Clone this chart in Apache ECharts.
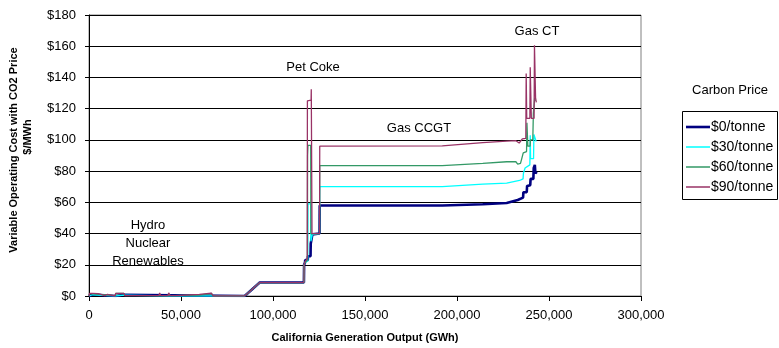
<!DOCTYPE html>
<html><head><meta charset="utf-8">
<script src="https://cdn.jsdelivr.net/npm/echarts@6/dist/echarts.min.js"></script>
<style>html,body{margin:0;padding:0;background:#fff}#c{width:779px;height:348px}</style>
</head><body><div id="c"></div>
<script>
const seriesNames = ['$0/tonne', '$30/tonne', '$60/tonne', '$90/tonne'];
const xTicks = [0, 50000, 100000, 150000, 200000, 250000, 300000];
const yTicks = [0, 20, 40, 60, 80, 100, 120, 140, 160, 180];

const gwh0 = [0,300,2000,2300,14500,15000,19000,19400,84600,92800,116800,116900,117400,117500,118900,119000,120400,120500,121300,121400,125300,125400,192000,214000,227000,233000,235900,236100,237900,238100,239800,240000,241500,241700,242300,242600,243400];
const cost0 = [0,1,1,0,0,0.8,0.8,0,0,8.6,8.6,20,21.5,23,23,25.5,25.5,33.5,33.5,39.5,40,58,58,58.8,59.6,61.5,63,66.5,66.5,70.5,71,75,75,82,84,78.6,79.5];

const gwh30 = [0,300,2000,2300,14400,14500,19000,19400,43000,43300,44000,66000,66500,67500,84600,92800,116800,116900,117400,118900,119000,120500,120600,121300,121400,125300,125400,192000,214000,227000,234000,235900,236100,237000,237700,239600,239800,240000,241600,241800,242400,243000];
const cost30 = [0,0.8,0.8,0,0,0.5,0.5,0,0,1.2,0,0,1.2,0,0,8.6,8.6,20,21.5,22.5,59,59,35,35,39.5,40,70,70,71.6,72.3,74,75,78.6,82,83,84,103,88,88,103.5,103.5,99];

const gwh60 = [0,300,2000,2300,14400,14500,19000,19400,43000,43300,44000,60000,66500,67500,84600,92800,116800,116900,117400,118700,118800,119000,120500,120600,125300,125400,192000,214000,227000,232000,233000,234500,235200,235800,236000,237800,238000,238400,238500,239700,239900,241200,241500,241900,242200,242600];
const cost60 = [0,1.4,1.4,0.2,0.2,1.6,1.6,0.2,0.2,1.6,0.2,0.6,1.6,0,0,8.6,8.6,20,21.5,23,90,96.5,96.5,40,40,83.5,83.5,85,86,86,84.5,85,88,88,91.7,92.5,111,111,96,96,100,100,117,117,127,125];

const gwh90 = [0,300,2000,2300,3000,5000,5400,8500,9000,10000,10300,14000,14500,19000,19400,38000,38400,38900,43000,43300,44000,47500,60000,66500,67500,84600,92800,116800,116900,117400,118600,118700,120700,120800,121100,121200,125300,125400,192000,214000,227000,232000,233800,234800,235500,237400,237600,237900,239600,239800,240200,240400,241900,242100,242500,242700,243100];
const cost90 = [0,1.7,1.7,0.5,1.5,1.5,0.3,0.3,1,1,0,0,1.7,1.7,0.3,0.3,2,0.3,0.3,2,0.3,0.3,1,1.8,0,0,8.6,8.6,20,22,24,125,125.5,132.5,132.5,40,40,96,96.2,98.3,99.2,99.5,98,99,100.7,101,142.5,113.8,113.8,146.5,146.5,113.8,113.8,160.6,160.6,127,124];

const annotations = [
  {text: 'Hydro', x: 148, y: 225},
  {text: 'Nuclear', x: 148, y: 243},
  {text: 'Renewables', x: 148, y: 261},
  {text: 'Pet Coke', x: 313, y: 67},
  {text: 'Gas CCGT', x: 419, y: 128},
  {text: 'Gas CT', x: 537, y: 31}
];

const FONT = '"Liberation Sans", Arial, sans-serif';
const colors = ['#000080', '#00FFFF', '#339966', '#993366'];
const widths = [2.6, 1.3, 1.3, 1.3];
const legendIcons = ['path://M0,0H24V2.6H0Z', 'path://M0,0H24V1.5H0Z', 'path://M0,0H24V1.5H0Z', 'path://M0,0H24V1.5H0Z'];
const pairs = (xs, ys) => xs.map((x, i) => [x, ys[i]]);
const allX = [gwh0, gwh30, gwh60, gwh90];
const allY = [cost0, cost30, cost60, cost90];

const chart = echarts.init(document.getElementById('c'), null, {renderer: 'canvas'});
const graphics = [
  {type: 'rect', z: 0, shape: {x: 682.5, y: 111.5, width: 95, height: 88}, style: {fill: '#fff', stroke: '#000', lineWidth: 1}},
  {type: 'text', z: 10, x: 730, y: 90, style: {text: 'Carbon Price', font: '13px ' + FONT, fill: '#000', textAlign: 'center', textVerticalAlign: 'middle'}},
  {type: 'text', z: 10, x: 14, y: 150, rotation: Math.PI / 2, style: {text: 'Variable Operating Cost with CO2 Price', font: 'bold 11px ' + FONT, fill: '#000', textAlign: 'center', textVerticalAlign: 'middle'}},
  {type: 'text', z: 10, x: 28, y: 137, rotation: Math.PI / 2, style: {text: '$/MWh', font: 'bold 11px ' + FONT, fill: '#000', textAlign: 'center', textVerticalAlign: 'middle'}},
  {type: 'text', z: 10, x: 365, y: 338, style: {text: 'California Generation Output (GWh)', font: 'bold 11px ' + FONT, fill: '#000', textAlign: 'center', textVerticalAlign: 'middle'}}
].concat(annotations.map(a => ({type: 'text', z: 10, x: a.x, y: a.y, style: {text: a.text, font: '13px ' + FONT, fill: '#000', textAlign: 'center', textVerticalAlign: 'middle'}})));

chart.setOption({
  animation: false,
  backgroundColor: '#fff',
  grid: {left: 89, right: 138, top: 15, bottom: 52, show: true, borderColor: '#808080', borderWidth: 1},
  xAxis: {
    type: 'value', min: xTicks[0], max: xTicks[xTicks.length - 1], interval: 50000,
    axisLine: {show: true, onZero: false, lineStyle: {color: '#000', width: 1}},
    axisTick: {show: true, inside: false, length: 5, lineStyle: {color: '#000'}},
    axisLabel: {margin: 13, fontSize: 13, fontFamily: FONT, color: '#000', formatter: v => v.toLocaleString('en-US')},
    splitLine: {show: false}
  },
  yAxis: {
    type: 'value', min: yTicks[0], max: yTicks[yTicks.length - 1], interval: 20,
    axisLine: {show: true, lineStyle: {color: '#000', width: 1}},
    axisTick: {show: true, inside: false, length: 4, lineStyle: {color: '#000'}},
    axisLabel: {margin: 13, fontSize: 13, fontFamily: FONT, color: '#000', formatter: v => '$' + v},
    splitLine: {show: true, lineStyle: {color: '#000', width: 1}}
  },
  legend: {
    orient: 'vertical', left: 681, top: 115, itemWidth: 24, itemHeight: 12, itemGap: 6,
    textStyle: {fontSize: 14, fontFamily: FONT, color: '#000', padding: [0, 0, 0, -4]},
    data: seriesNames.map((n, i) => ({name: n, icon: legendIcons[i], itemStyle: {color: colors[i]}}))
  },
  graphic: graphics,
  series: seriesNames.map((n, i) => ({
    name: n, type: 'line', showSymbol: false, symbol: 'none', z: 2 + i,
    data: pairs(allX[i], allY[i]),
    lineStyle: {color: colors[i], width: widths[i]},
    itemStyle: {color: colors[i]}
  }))
});
</script></body></html>
